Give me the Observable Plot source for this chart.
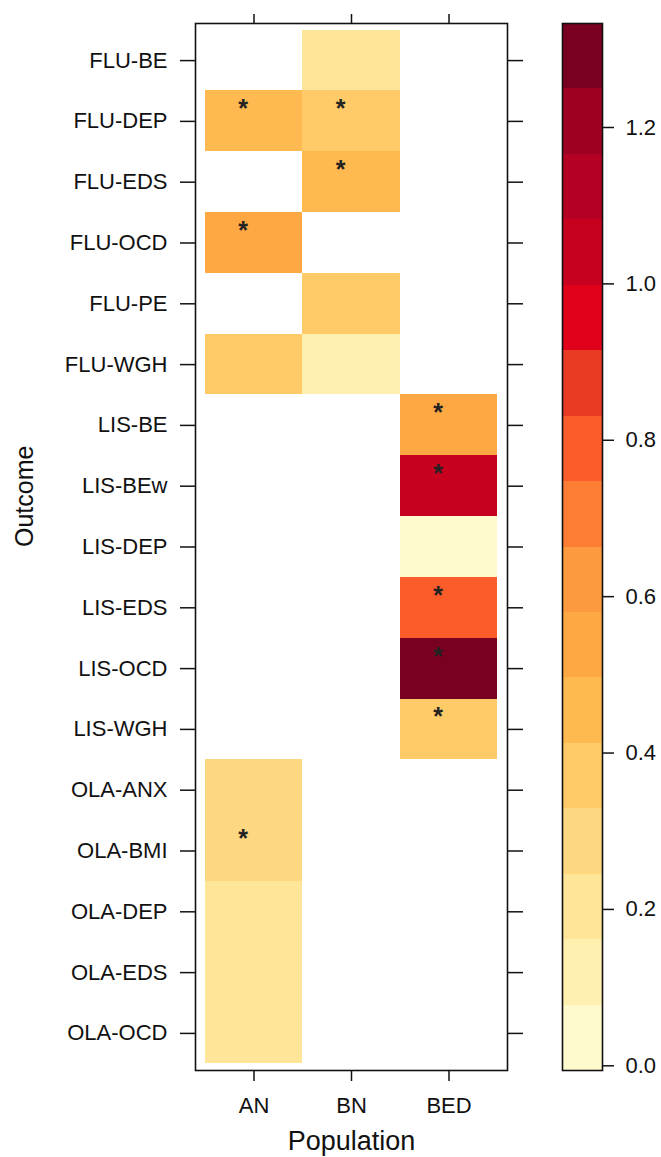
<!DOCTYPE html>
<html>
<head>
<meta charset="utf-8">
<script src="https://cdn.jsdelivr.net/npm/d3@7"></script>
<script src="https://cdn.jsdelivr.net/npm/@observablehq/plot@0.6"></script>
<style>
  html, body { margin: 0; padding: 0; background: #fff; }
  #wrap { position: relative; width: 661px; height: 1157px; overflow: hidden; background: #fff; }
  #main { position: absolute; left: 0; top: 0; }
  #bar { position: absolute; left: 530px; top: 0; }
</style>
</head>
<body>
<div id="wrap"><div id="main"></div><div id="bar"></div></div>
<script>
// ---- data ----
const populations = ["AN", "BN", "BED"];
const outcomes = ["FLU-BE","FLU-DEP","FLU-EDS","FLU-OCD","FLU-PE","FLU-WGH",
  "LIS-BE","LIS-BEw","LIS-DEP","LIS-EDS","LIS-OCD","LIS-WGH",
  "OLA-ANX","OLA-BMI","OLA-DEP","OLA-EDS","OLA-OCD"];
const cellOutcome = ["FLU-BE","FLU-DEP","FLU-DEP","FLU-EDS","FLU-OCD","FLU-PE","FLU-WGH","FLU-WGH",
  "LIS-BE","LIS-BEw","LIS-DEP","LIS-EDS","LIS-OCD","LIS-WGH",
  "OLA-ANX","OLA-BMI","OLA-DEP","OLA-EDS","OLA-OCD"];
const cellPopulation = ["BN","AN","BN","BN","AN","BN","AN","BN",
  "BED","BED","BED","BED","BED","BED",
  "AN","AN","AN","AN","AN"];
const cellValue = [0.20,0.45,0.37,0.44,0.53,0.36,0.38,0.12,
  0.55,1.04,-0.006,0.79,1.333,0.35,
  0.28,0.30,0.21,0.22,0.20];
const cellStar = [false,true,true,true,true,false,false,false,
  true,true,false,true,true,true,
  false,true,false,false,false];
const colorTicks = [0.0, 0.2, 0.4, 0.6, 0.8, 1.0, 1.2];
const palette = ["#fffacc","#fff0b0","#fee597","#fed881","#fecb68","#feb950","#fea844","#fd9a3f",
  "#fd7d35","#fc5b2a","#ea3a24","#e0001a","#c8001f","#b40022","#9e0024","#7a0022"];

// ---- derived ----
const cells = cellValue.map((v, i) => ({
  outcome: cellOutcome[i], population: cellPopulation[i], value: v, star: cellStar[i]
}));
const zmin = d3.min(cellValue), zmax = d3.max(cellValue);
const nLev = palette.length;
const breaks = d3.range(nLev + 1).map(i => zmin + i * (zmax - zmin) / nLev);
const bands = d3.range(nLev).map(i => ({lo: breaks[i], hi: breaks[i + 1], mid: (breaks[i] + breaks[i + 1]) / 2}));
const colorScale = {type: "threshold", domain: breaks.slice(1, -1), range: palette};
const font = "'Liberation Sans', Arial, Helvetica, sans-serif";
const ink = "#111";

const main = Plot.plot({
  width: 540, height: 1157,
  marginLeft: 195, marginRight: 33, marginTop: 23, marginBottom: 87,
  x: {type: "band", domain: populations, paddingInner: 0, paddingOuter: 0.1, round: false, axis: null},
  y: {type: "band", domain: outcomes, paddingInner: 0, paddingOuter: 0.11, round: false, axis: null},
  color: colorScale,
  style: {fontFamily: font, background: "#fff", color: ink, overflow: "visible"},
  marks: [
    Plot.cell(cells, {x: "population", y: "outcome", fill: "value", inset: 0, shapeRendering: "crispEdges"}),
    Plot.text(cells.filter(d => d.star), {x: "population", y: "outcome", text: () => "*",
      fontSize: 25, fontWeight: "bold", dx: -11, dy: -12, fill: "#222"}),
    Plot.frame({stroke: ink, strokeWidth: 1.6}),
    Plot.axisY({anchor: "left", tickSize: 15, tickPadding: 13, fontSize: 22, label: null, stroke: ink, strokeWidth: 1.5}),
    Plot.axisY({anchor: "right", tickSize: 15, tickFormat: () => "", label: null, stroke: ink, strokeWidth: 1.5}),
    Plot.axisX({anchor: "top", tickSize: 10, tickFormat: () => "", label: null, stroke: ink, strokeWidth: 1.5}),
    Plot.axisX({anchor: "bottom", tickSize: 11, tickPadding: 16, fontSize: 22, label: null, stroke: ink, strokeWidth: 1.5}),
    Plot.text(["Population"], {frameAnchor: "bottom", dy: 79, fontSize: 27, fill: ink}),
    Plot.text(["Outcome"], {frameAnchor: "left", dx: -171, rotate: -90, fontSize: 25, fill: ink})
  ]
});
document.getElementById("main").appendChild(main);

const bar = Plot.plot({
  width: 131, height: 1157,
  marginLeft: 32, marginRight: 59, marginTop: 23, marginBottom: 87,
  y: {domain: [zmin, zmax], axis: null},
  color: colorScale,
  style: {fontFamily: font, background: "transparent", color: ink, overflow: "visible"},
  marks: [
    Plot.rect(bands, {y1: "lo", y2: "hi", fill: "mid", shapeRendering: "crispEdges"}),
    Plot.frame({stroke: ink, strokeWidth: 1.6}),
    Plot.axisY({anchor: "right", ticks: colorTicks, tickSize: 11, tickPadding: 12,
      tickFormat: d3.format(".1f"), fontSize: 22, label: null, stroke: ink, strokeWidth: 1.5})
  ]
});
document.getElementById("bar").appendChild(bar);
</script>
</body>
</html>
